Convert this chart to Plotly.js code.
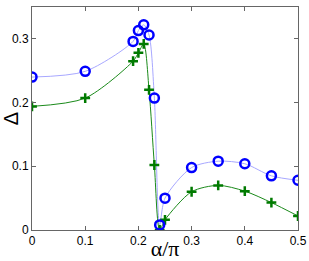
<!DOCTYPE html>
<html>
<head>
<meta charset="utf-8">
<script src="https://cdn.plot.ly/plotly-3.0.1.min.js"></script>
<style>html,body{margin:0;padding:0;background:#fff;}#chart{width:309px;height:261px;}</style>
</head>
<body>
<div id="chart"></div>
<script>
const alphaBlue = [0, 0.1, 0.19, 0.2, 0.21, 0.22, 0.23, 0.24, 0.25, 0.3, 0.35, 0.4, 0.45, 0.5];
const deltaBlue = [0.240, 0.249, 0.296, 0.313, 0.322, 0.306, 0.207, 0.008, 0.050, 0.098, 0.108, 0.104, 0.085, 0.078];
const alphaGreen = [0, 0.1, 0.19, 0.2, 0.21, 0.22, 0.23, 0.24, 0.25, 0.3, 0.35, 0.4, 0.45, 0.5];
const deltaGreen = [0.194, 0.207, 0.265, 0.278, 0.292, 0.220, 0.102, 0.000, 0.016, 0.060, 0.070, 0.061, 0.043, 0.022];
const xTicks = [0, 0.1, 0.2, 0.3, 0.4, 0.5];
const yTicks = [0, 0.1, 0.2, 0.3];

const traces = [
  {x: alphaBlue, y: deltaBlue, mode: 'lines', line: {color: '#a8a8ff', width: 1, shape: 'spline', smoothing: 0.8}, hoverinfo: 'skip'},
  {x: alphaGreen, y: deltaGreen, mode: 'lines', line: {color: '#1a8a1a', width: 1, shape: 'spline', smoothing: 0.8}, hoverinfo: 'skip'},
  {x: alphaGreen, y: deltaGreen, mode: 'markers', marker: {symbol: 'cross-thin-open', size: 7, color: '#007a00', line: {color: '#007a00', width: 2.5}}},
  {x: alphaBlue, y: deltaBlue, mode: 'markers', marker: {symbol: 'circle-open', size: 9, color: '#0000ff', line: {color: '#0000ff', width: 2.5}}}
];
const axisBase = {
  showgrid: false, zeroline: false, showline: true, linecolor: '#666', linewidth: 1,
  mirror: 'ticks', ticks: 'inside', ticklen: 4, tickcolor: '#666',
  tickfont: {family: 'Liberation Sans, Arial, sans-serif', size: 12, color: '#000'}
};
const layout = {
  width: 309, height: 261,
  margin: {l: 32, r: 11, t: 7, b: 31},
  paper_bgcolor: '#fff', plot_bgcolor: '#fff',
  showlegend: false,
  xaxis: Object.assign({}, axisBase, {range: [0, 0.5], tickvals: xTicks, ticktext: xTicks.map(String),
    title: {text: 'α/π', font: {family: 'Liberation Serif, Times New Roman, serif', size: 22, color: '#000'}, standoff: 0}}),
  yaxis: Object.assign({}, axisBase, {range: [0, 0.35], tickvals: yTicks, ticktext: yTicks.map(String),
    title: {text: 'Δ', font: {family: 'Liberation Sans, Arial, sans-serif', size: 20, color: '#000'}, standoff: 4}})
};
Plotly.newPlot('chart', traces, layout, {staticPlot: true, displayModeBar: false});
</script>
</body>
</html>
